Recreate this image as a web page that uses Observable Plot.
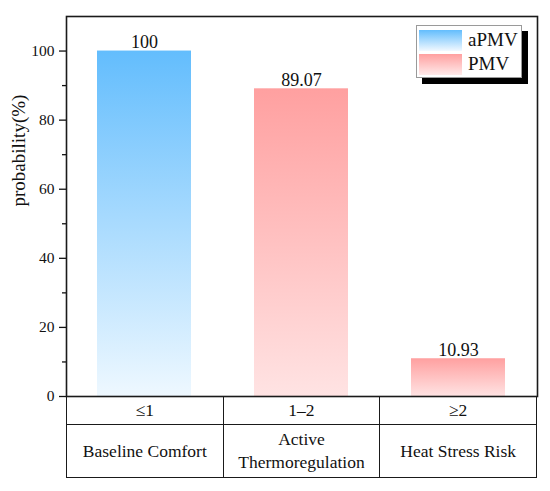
<!DOCTYPE html>
<html>
<head>
<meta charset="utf-8">
<script src="https://cdn.jsdelivr.net/npm/d3@7"></script>
<script src="https://cdn.jsdelivr.net/npm/@observablehq/plot@0.6"></script>
<style>
  body { margin: 0; background: #fff; font-family: "Liberation Serif", "Times New Roman", serif; }
  #wrap { position: relative; width: 550px; height: 491px; overflow: hidden; }
  #wrap svg { position: absolute; left: 0; top: 0; }
  #tbl { position: absolute; left: 66px; top: 396px; width: 471px; border-collapse: collapse; table-layout: fixed; }
  #tbl td { border: 1.6px solid #1a1a1a; text-align: center; vertical-align: middle; padding: 0; color: #111; font-size: 17.5px; line-height: 23px; }
  #tbl tr.r1 td { height: 27px; }
  #tbl tr.r2 td { height: 52px; }
  #legend { position: absolute; left: 416px; top: 25px; width: 104px; height: 51px; background: #fff; border: 1px solid #9a9a9a; box-shadow: 6px 6px 0 #000; }
  .lrow { position: absolute; left: 2px; height: 22px; display: flex; align-items: center; }
  .sw { width: 43px; height: 21px; margin-right: 6px; }
  .lt { font-size: 19px; color: #111; }
</style>
</head>
<body>
<div id="wrap"></div>
<script>
const categories = ["Baseline Comfort", "Active Thermoregulation", "Heat Stress Risk"];
const tableCategories = ["Baseline Comfort", "Active<br>Thermoregulation", "Heat Stress Risk"];
const ranges = ["≤1", "1–2", "≥2"];
const values = [100, 89.07, 10.93];
const valueLabels = ["100", "89.07", "10.93"];
const series = ["aPMV", "PMV", "PMV"];
const legendSeries = ["aPMV", "PMV"];
const yMajorTicks = [0, 20, 40, 60, 80, 100];
const yMinorTicks = [10, 30, 50, 70, 90];
const yLabel = "probability(%)";

const gradients = {
  aPMV: { id: "gBlue", top: "#63BDFD", bottom: "#EEF8FF" },
  PMV: { id: "gPink", top: "#FFA0A0", bottom: "#FFE3E3" }
};

const data = categories.map((c, i) => ({ cat: c, value: values[i], label: valueLabels[i], series: series[i] }));

const chart = Plot.plot({
  width: 550,
  height: 412,
  marginTop: 16,
  marginLeft: 66,
  marginRight: 13,
  marginBottom: 16,
  style: { fontFamily: "Liberation Serif, Times New Roman, serif", color: "#111", background: "transparent" },
  x: { domain: categories, paddingInner: 0.4, paddingOuter: 0.2, axis: null },
  y: { domain: [0, 110] },
  marks: [
    ...legendSeries.map(s => Plot.barY(data.filter(d => d.series === s), { x: "cat", y: "value", fill: `url(#${gradients[s].id})` })),
    Plot.text(data, { x: "cat", y: "value", text: "label", dy: -3, lineAnchor: "bottom", fontSize: 18, fill: "#111" }),
    Plot.axisY({ ticks: yMajorTicks, tickSize: 7, tickPadding: 5, fontSize: 15.5, label: null, strokeWidth: 1.3 }),
    Plot.axisY({ ticks: yMinorTicks, tickSize: 4, tickFormat: () => "", label: null, strokeWidth: 1.3 }),
    Plot.frame({ stroke: "#1a1a1a", strokeWidth: 1.6 }),
    Plot.text([yLabel], { text: d => d, frameAnchor: "left", dx: -48, rotate: -90, fontSize: 19, fill: "#111" })
  ]
});

const defs = d3.select(chart).insert("defs", ":first-child");
for (const s of legendSeries) {
  const g = gradients[s];
  const lg = defs.append("linearGradient").attr("id", g.id).attr("x1", 0).attr("y1", 0).attr("x2", 0).attr("y2", 1);
  lg.append("stop").attr("offset", 0).attr("stop-color", g.top);
  lg.append("stop").attr("offset", 1).attr("stop-color", g.bottom);
}

const wrap = document.getElementById("wrap");
wrap.appendChild(chart);

// table below the axis
const tbl = document.createElement("table");
tbl.id = "tbl";
tbl.innerHTML =
  `<tr class="r1">${ranges.map(r => `<td>${r}</td>`).join("")}</tr>` +
  `<tr class="r2">${tableCategories.map(c => `<td>${c}</td>`).join("")}</tr>`;
wrap.appendChild(tbl);

// legend
const leg = document.createElement("div");
leg.id = "legend";
leg.innerHTML = legendSeries.map((s, i) =>
  `<div class="lrow" style="top:${3 + i * 24}px"><div class="sw" style="background:linear-gradient(${gradients[s].top}, ${i === 0 ? "#F2F9FF" : "#FFEAEA"})"></div><span class="lt">${s}</span></div>`
).join("");
wrap.appendChild(leg);
</script>
</body>
</html>
